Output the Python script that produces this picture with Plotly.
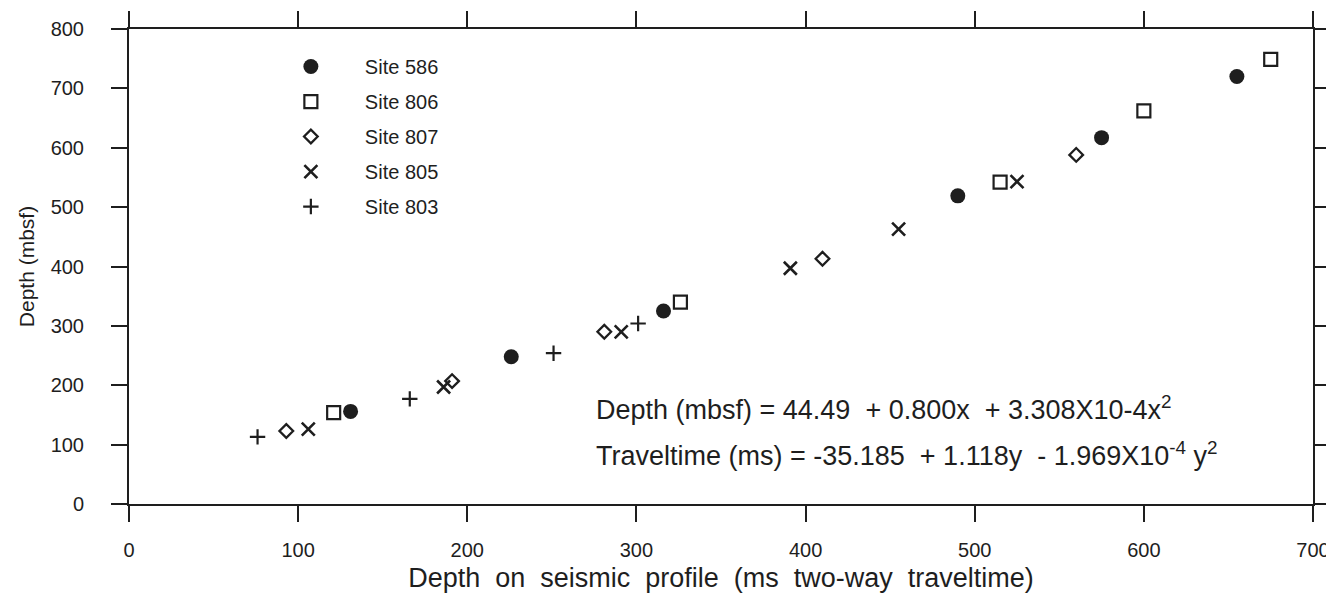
import plotly.graph_objects as go

# Data (x: ms two-way traveltime, y: depth mbsf)
site586_x = [131, 226, 316, 490, 575, 655]
site586_y = [156, 248, 325, 519, 617, 720]
site806_x = [121, 326, 515, 600, 675]
site806_y = [154, 340, 542, 662, 749]
site807_x = [93, 191, 281, 410, 560]
site807_y = [123, 207, 290, 413, 588]
site805_x = [106, 186, 291, 391, 455, 525]
site805_y = [126, 197, 290, 397, 463, 543]
site803_x = [76, 166, 251, 301]
site803_y = [113, 177, 254, 304]

x_ticks = [0, 100, 200, 300, 400, 500, 600, 700]
y_ticks = [0, 100, 200, 300, 400, 500, 600, 700, 800]

INK = "#1e1e1e"
FONT = "Liberation Sans, Arial, sans-serif"
SP = "\u00a0"

fig = go.Figure()

series = [
    ("Site 586", site586_x, site586_y, dict(symbol="circle", size=15, color=INK, line=dict(width=0))),
    ("Site 806", site806_x, site806_y, dict(symbol="square-open", size=13, color=INK, line=dict(width=2.2, color=INK))),
    ("Site 807", site807_x, site807_y, dict(symbol="diamond-open", size=10.5, color=INK, line=dict(width=2.3, color=INK))),
    ("Site 805", site805_x, site805_y, dict(symbol="x-thin-open", size=13, color=INK, line=dict(width=2.6, color=INK))),
    ("Site 803", site803_x, site803_y, dict(symbol="cross-thin-open", size=11, color=INK, line=dict(width=2.2, color=INK))),
]
for i, (name, xs, ys, mk) in enumerate(series):
    fig.add_trace(go.Scatter(x=xs, y=ys, mode="markers", name=name, marker=mk,
                             legendgroup=f"g{i}"))

eq1 = f"Depth (mbsf) ={SP}44.49 {SP}+{SP}0.800x {SP}+{SP}3.308X10-4x<sup>2</sup>"
eq2 = f"Traveltime (ms) ={SP}-35.185 {SP}+{SP}1.118y {SP}-{SP}1.969X10<sup>-4</sup>{SP}y<sup>2</sup>"
fig.add_annotation(x=275, y=161, xref="x", yref="y", xanchor="left", yanchor="middle",
                   showarrow=False, text=eq1,
                   font=dict(family=FONT, size=27, color=INK))
fig.add_annotation(x=275, y=84, xref="x", yref="y", xanchor="left", yanchor="middle",
                   showarrow=False, text=eq2,
                   font=dict(family=FONT, size=27, color=INK))

axis_common = dict(showline=True, linecolor=INK, linewidth=2, mirror="ticks",
                   ticks="outside", ticklen=16, tickwidth=2, tickcolor=INK,
                   showgrid=False, zeroline=False, automargin=False,
                   tickfont=dict(family=FONT, size=20, color=INK))

# The page body adds an 8 px offset, so the figure is sized 8 px smaller
fig.update_layout(
    width=1326, height=585,
    margin=dict(l=121, r=21, t=21, b=89),
    paper_bgcolor="white", plot_bgcolor="white",
    showlegend=True,
    legend=dict(x=0.108, y=0.962, xanchor="left", yanchor="top",
                font=dict(family=FONT, size=20, color=INK),
                itemwidth=98, tracegroupgap=6, traceorder="grouped",
                bgcolor="rgba(0,0,0,0)"),
    xaxis=dict(range=[0, 700], tickvals=x_ticks, ticktext=[str(v) for v in x_ticks],
               ticklabelstandoff=11,
               title=dict(text=f"Depth{SP} on{SP} seismic{SP} profile{SP} (ms{SP} two-way{SP} traveltime)",
                          font=dict(family=FONT, size=27, color=INK), standoff=14),
               **axis_common),
    yaxis=dict(range=[0, 800], tickvals=y_ticks, ticktext=[str(v) for v in y_ticks],
               ticklabelstandoff=23,
               title=dict(text="Depth (mbsf)", font=dict(family=FONT, size=21, color=INK), standoff=10),
               **axis_common),
)

fig.write_html("out.html")
